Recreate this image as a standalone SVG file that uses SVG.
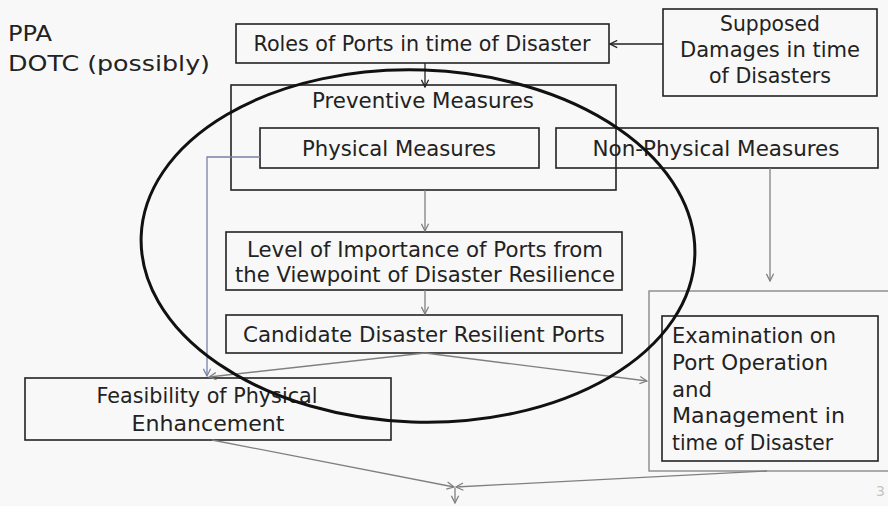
<svg xmlns="http://www.w3.org/2000/svg" width="888" height="506" viewBox="0 0 888 506">
  <style>
    .t { font-family: "DejaVu Sans", "Liberation Sans", sans-serif; font-size: 21px; fill: #222; }
    .c { text-anchor: middle; }
    .box { fill: none; stroke: #222; stroke-width: 1.6; }
    .gbox { fill: none; stroke: #8a8a8a; stroke-width: 1.4; }
    .dark { fill: none; stroke: #222; stroke-width: 1.3; }
    .grey { fill: none; stroke: #808080; stroke-width: 1.3; }
    .blue { fill: none; stroke: #7684a4; stroke-width: 1.3; }
  </style>
  <defs>
    <marker id="ahDark" viewBox="0 0 10 10" refX="9" refY="5" markerWidth="9" markerHeight="9" markerUnits="userSpaceOnUse" orient="auto">
      <path d="M1,1 L9,5 L1,9" fill="none" stroke="#222" stroke-width="1.4"/>
    </marker>
    <marker id="ahGrey" viewBox="0 0 10 10" refX="9" refY="5" markerWidth="9" markerHeight="9" markerUnits="userSpaceOnUse" orient="auto">
      <path d="M1,1 L9,5 L1,9" fill="none" stroke="#808080" stroke-width="1.4"/>
    </marker>
    <marker id="ahBlue" viewBox="0 0 10 10" refX="9" refY="5" markerWidth="9" markerHeight="9" markerUnits="userSpaceOnUse" orient="auto">
      <path d="M1,1 L9,5 L1,9" fill="none" stroke="#7684a4" stroke-width="1.4"/>
    </marker>
  </defs>

  <rect width="888" height="506" fill="#f8f8f8"/>

  <!-- organisations -->
  <g id="agencies">
    <text class="t" x="8" y="41" font-size="22" textLength="44" lengthAdjust="spacingAndGlyphs">PPA</text>
    <text class="t" x="8" y="71" font-size="22" textLength="202" lengthAdjust="spacingAndGlyphs">DOTC (possibly)</text>
  </g>

  <g id="roles">
    <rect class="box" x="236" y="24" width="373" height="39"/>
    <text class="t c" x="422" y="51" textLength="337" lengthAdjust="spacingAndGlyphs">Roles of Ports in time of Disaster</text>
  </g>

  <g id="damages">
    <rect class="box" x="663" y="9" width="214" height="87"/>
    <text class="t c" x="770" y="31" textLength="100" lengthAdjust="spacingAndGlyphs">Supposed</text>
    <text class="t c" x="770" y="57" textLength="180" lengthAdjust="spacingAndGlyphs">Damages in time</text>
    <text class="t c" x="770" y="83" textLength="122" lengthAdjust="spacingAndGlyphs">of Disasters</text>
  </g>

  <g id="preventive">
    <rect class="box" x="231" y="85" width="385" height="105"/>
    <text class="t c" x="423" y="108" textLength="222" lengthAdjust="spacingAndGlyphs">Preventive Measures</text>
  </g>

  <g id="physical">
    <rect class="box" x="260" y="128" width="279" height="40"/>
    <text class="t c" x="399" y="156" textLength="194" lengthAdjust="spacingAndGlyphs">Physical Measures</text>
  </g>

  <g id="nonphysical">
    <rect class="box" x="556" y="128" width="322" height="40"/>
    <text class="t c" x="716" y="156" textLength="247" lengthAdjust="spacingAndGlyphs">Non-Physical Measures</text>
  </g>

  <g id="importance">
    <rect class="box" x="226" y="232" width="396" height="58"/>
    <text class="t c" x="425" y="257" textLength="356" lengthAdjust="spacingAndGlyphs">Level of Importance of Ports from</text>
    <text class="t c" x="425" y="282" textLength="380" lengthAdjust="spacingAndGlyphs">the Viewpoint of Disaster Resilience</text>
  </g>

  <g id="candidate">
    <rect class="box" x="226" y="315" width="396" height="38"/>
    <text class="t c" x="424" y="342" textLength="362" lengthAdjust="spacingAndGlyphs">Candidate Disaster Resilient Ports</text>
  </g>

  <g id="feasibility">
    <rect class="box" x="25" y="378" width="366" height="62"/>
    <text class="t c" x="207" y="403" textLength="221" lengthAdjust="spacingAndGlyphs">Feasibility of Physical</text>
    <text class="t c" x="208" y="431" textLength="153" lengthAdjust="spacingAndGlyphs">Enhancement</text>
  </g>

  <g id="examination">
    <rect class="gbox" x="649" y="291" width="245" height="180"/>
    <rect class="box" x="662" y="316" width="216" height="145"/>
    <text class="t" x="672" y="343" textLength="164" lengthAdjust="spacingAndGlyphs">Examination on</text>
    <text class="t" x="672" y="370" textLength="156" lengthAdjust="spacingAndGlyphs">Port Operation</text>
    <text class="t" x="672" y="397" textLength="40" lengthAdjust="spacingAndGlyphs">and</text>
    <text class="t" x="672" y="423" textLength="173" lengthAdjust="spacingAndGlyphs">Management in</text>
    <text class="t" x="672" y="450" textLength="161" lengthAdjust="spacingAndGlyphs">time of Disaster</text>
  </g>

  <!-- connectors -->
  <g id="connectors">
    <line class="dark" x1="663" y1="44" x2="610" y2="44" marker-end="url(#ahDark)"/>
    <line class="dark" x1="425" y1="63" x2="425" y2="87" marker-end="url(#ahDark)"/>
    <polyline class="blue" points="260,157 207,157 207,376" marker-end="url(#ahBlue)"/>
    <line class="grey" x1="425" y1="190" x2="425" y2="231" marker-end="url(#ahGrey)"/>
    <line class="grey" x1="425" y1="290" x2="425" y2="314" marker-end="url(#ahGrey)"/>
    <line class="grey" x1="770" y1="168" x2="770" y2="281" marker-end="url(#ahGrey)"/>
    <line class="grey" x1="425" y1="353" x2="209" y2="377" marker-end="url(#ahGrey)"/>
    <line class="grey" x1="425" y1="353" x2="647" y2="381" marker-end="url(#ahGrey)"/>
    <line class="grey" x1="212" y1="440" x2="454" y2="487" marker-end="url(#ahGrey)"/>
    <line class="grey" x1="767" y1="471" x2="456" y2="487" marker-end="url(#ahGrey)"/>
    <line class="grey" x1="455" y1="488" x2="455" y2="503" marker-end="url(#ahGrey)"/>
  </g>

  <!-- scope outline -->
  <g id="scope">
    <ellipse cx="418" cy="246" rx="277" ry="176" transform="rotate(2 418 246)" fill="none" stroke="#111" stroke-width="3"/>
  </g>

  <text x="876" y="496" font-family="DejaVu Sans, sans-serif" font-size="14" fill="#c4c4c4">3</text>
</svg>
